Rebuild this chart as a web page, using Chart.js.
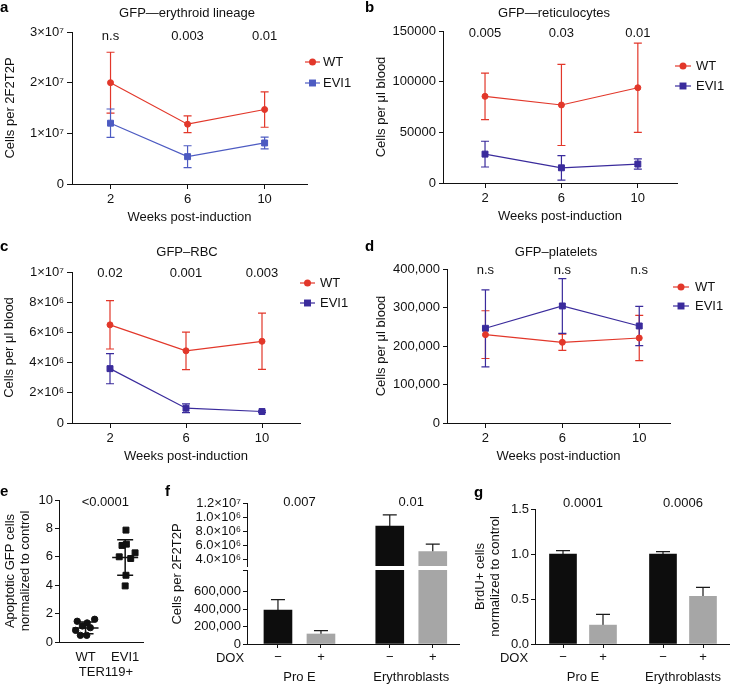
<!DOCTYPE html>
<html>
<head>
<meta charset="utf-8">
<title>EVI1 erythroid figure</title>
<script src="https://cdn.jsdelivr.net/npm/chart.js@4.4.1/dist/chart.umd.min.js"></script>
<style>
  html, body { margin: 0; padding: 0; background: #fff; }
  #fig { position: relative; width: 730px; height: 684px; overflow: hidden; }
  #fig canvas { position: absolute; left: 0; top: 0; }
</style>
</head>
<body>
<div id="fig">
  <canvas id="panelA" width="730" height="684"></canvas>
  <canvas id="panelB" width="730" height="684"></canvas>
  <canvas id="panelC" width="730" height="684"></canvas>
  <canvas id="panelD" width="730" height="684"></canvas>
  <canvas id="panelE" width="730" height="684"></canvas>
  <canvas id="panelFHi" width="730" height="684"></canvas>
  <canvas id="panelFLo" width="730" height="684"></canvas>
  <canvas id="panelG" width="730" height="684"></canvas>
</div>
<script>
// weeks post-induction (a–d)
const weeks = [2, 6, 10];

// a: GFP—erythroid lineage, cells per 2F2T2P
const erythWT = [2.0e7, 1.18e7, 1.47e7];
const erythWTErr = [0.6e7, 0.165e7, 0.35e7];
const erythEVI1 = [1.2e7, 0.54e7, 0.81e7];
const erythEVI1Err = [0.28e7, 0.215e7, 0.115e7];
const erythP = ['n.s', '0.003', '0.01'];
const erythTicks = [0, 1e7, 2e7, 3e7];
const erythTickLabels = ['0', '1×10⁷', '2×10⁷', '3×10⁷'];

// b: GFP—reticulocytes, cells per µl blood
const reticWT = [85500, 77000, 94000];
const reticWTErr = [23000, 40000, 44000];
const reticEVI1 = [28500, 15000, 18700];
const reticEVI1Err = [12700, 12100, 5100];
const reticP = ['0.005', '0.03', '0.01'];
const reticTicks = [0, 50000, 100000, 150000];
const reticTickLabels = ['0', '50000', '100000', '150000'];

// c: GFP–RBC
const rbcWT = [6.5e6, 4.78e6, 5.41e6];
const rbcWTErr = [1.6e6, 1.24e6, 1.86e6];
const rbcEVI1 = [3.6e6, 0.98e6, 0.76e6];
const rbcEVI1Err = [1.0e6, 0.29e6, 0.05e6];
const rbcP = ['0.02', '0.001', '0.003'];
const rbcTicks = [0, 2e6, 4e6, 6e6, 8e6, 1e7];
const rbcTickLabels = ['0', '2×10⁶', '4×10⁶', '6×10⁶', '8×10⁶', '1×10⁷'];

// d: GFP–platelets
const pltWT = [229500, 209600, 220800];
const pltWTErr = [62000, 21000, 59000];
const pltEVI1 = [246000, 304000, 252000];
const pltEVI1Err = [100000, 71000, 51000];
const pltP = ['n.s', 'n.s', 'n.s'];
const pltTicks = [0, 100000, 200000, 300000, 400000];
const pltTickLabels = ['0', '100,000', '200,000', '300,000', '400,000'];

// e: apoptotic GFP cells (TER119+), jittered dots
const apopGroups = ['WT', 'EVI1'];
const apopWTx = [0.79, 1.04, 1.23, 0.92, 1.12, 0.75, 0.87, 1.03];
const apopWT = [1.46, 1.34, 1.60, 1.13, 1.01, 0.82, 0.47, 0.47];
const apopEVI1x = [2.02, 1.92, 2.03, 2.25, 2.14, 1.85, 2.02, 2.0];
const apopEVI1 = [7.88, 6.8, 6.89, 6.28, 5.88, 6.0, 4.7, 3.95];
const apopMean = [0.99, 5.95];
const apopSD = [0.41, 1.25];
const apopP = '<0.0001';
const apopTicks = [0, 2, 4, 6, 8, 10];

// f: cells per 2F2T2P, split axis
const doxLabels = ['−', '+', '−', '+'];
const cellGroups = ['Pro E', 'Erythroblasts'];
const cellsF = [390000, 115000, 8.73e6, 5.12e6];
const cellsFErr = [119000, 38000, 1.6e6, 1.08e6];
const cellsP = ['0.007', '0.01'];
const cellsHiTicks = [4e6, 6e6, 8e6, 1e7, 1.2e7];
const cellsHiTickLabels = ['4.0×10⁶', '6.0×10⁶', '8.0×10⁶', '1.0×10⁶', '1.2×10⁷'];
const cellsLoTicks = [0, 200000, 400000, 600000, 850000];
const cellsLoTickLabels = ['0', '200,000', '400,000', '600,000', ''];

// g: BrdU+ cells normalized to control
const brdu = [1.0, 0.21, 1.0, 0.53];
const brduErr = [0.037, 0.12, 0.026, 0.10];
const brduP = ['0.0001', '0.0006'];
const brduTicks = [0, 0.5, 1.0, 1.5];
const brduTickLabels = ['0.0', '0.5', '1.0', '1.5'];

// look
const ink = '#111';
const red = '#e2372a';
const blueLight = '#4d5bc2';
const blueDark = '#3a2b9c';
const barFill = ['#0d0d0d', '#a6a6a6', '#0d0d0d', '#a6a6a6'];
const FONT = '"Liberation Sans", Arial, Helvetica, sans-serif';
const fSlots = [0, 1, 2.6, 3.6];   // bar slots on x axis (layout only)
const gSlots = [0, 1, 2.5, 3.5];

Chart.defaults.font.family = FONT;
Chart.defaults.font.size = 13;
Chart.defaults.color = ink;

function marker(ctx, style, r, x, y, color) {
  ctx.fillStyle = color;
  if (style === 'rect') {
    const s = r * Math.SQRT1_2 + 0.5;
    ctx.fillRect(x - s, y - s, 2 * s, 2 * s);
  } else {
    ctx.beginPath();
    ctx.arc(x, y, r + 0.5, 0, Math.PI * 2);
    ctx.fill();
  }
}

function drawErrorBars(chart) {
  const ctx = chart.ctx, ys = chart.scales.y, a = chart.chartArea;
  ctx.save();
  ctx.beginPath();
  ctx.rect(a.left - 10, a.top - 1, a.right - a.left + 20, a.bottom - a.top + 2);
  ctx.clip();
  chart.data.datasets.forEach((ds, di) => {
    if (!ds.errors) return;
    const meta = chart.getDatasetMeta(di);
    ctx.strokeStyle = ds.errColor || ds.borderColor;
    ctx.lineWidth = 1.2;
    const cap = ds.capHalf || 4;
    meta.data.forEach((el, i) => {
      const v = ds.data[i].y, e = ds.errors[i];
      const x = el.x;
      const hi = ys.getPixelForValue(v + e);
      const lo = ds.errUp ? ys.getPixelForValue(v) : ys.getPixelForValue(v - e);
      ctx.beginPath();
      ctx.moveTo(x, lo); ctx.lineTo(x, hi);
      ctx.moveTo(x - cap, hi); ctx.lineTo(x + cap, hi);
      if (!ds.errUp) { ctx.moveTo(x - cap, lo); ctx.lineTo(x + cap, lo); }
      ctx.stroke();
    });
  });
  ctx.restore();
}

function drawMeanSd(chart, m) {
  const ctx = chart.ctx, xs = chart.scales.x, ys = chart.scales.y;
  ctx.save();
  ctx.strokeStyle = ink;
  ctx.lineWidth = 1.5;
  m.at.forEach((xv, i) => {
    const x = xs.getPixelForValue(xv);
    const ym = ys.getPixelForValue(m.mean[i]);
    const yh = ys.getPixelForValue(m.mean[i] + m.sd[i]);
    const yl = ys.getPixelForValue(m.mean[i] - m.sd[i]);
    ctx.beginPath();
    ctx.moveTo(x - 13, ym); ctx.lineTo(x + 13, ym);
    ctx.moveTo(x, yh); ctx.lineTo(x, yl);
    ctx.moveTo(x - 8, yh); ctx.lineTo(x + 8, yh);
    ctx.moveTo(x - 8, yl); ctx.lineTo(x + 8, yl);
    ctx.stroke();
  });
  ctx.restore();
}

function drawTexts(chart, cfg) {
  const ctx = chart.ctx, xs = chart.scales.x;
  ctx.save();
  ctx.textBaseline = 'middle';
  ctx.fillStyle = ink;
  ctx.font = '13px ' + FONT;
  ctx.textAlign = 'center';
  if (cfg.title) ctx.fillText(cfg.title.text, cfg.title.x, cfg.title.y);
  if (cfg.pvals) cfg.pvals.labels.forEach((t, i) => ctx.fillText(t, xs.getPixelForValue(cfg.pvals.at[i]), cfg.pvals.y));
  if (cfg.groups) cfg.groups.labels.forEach((t, i) => ctx.fillText(t, xs.getPixelForValue(cfg.groups.at[i]), cfg.groups.y));
  (cfg.notes || []).forEach(n => {
    ctx.save();
    ctx.translate(n.x, n.y);
    if (n.rotate) ctx.rotate(-Math.PI / 2);
    ctx.fillText(n.text, 0, 0);
    ctx.restore();
  });
  if (cfg.legend) {
    const L = cfg.legend;
    chart.data.datasets.forEach((ds, i) => {
      const y = L.ys[i];
      ctx.strokeStyle = ds.borderColor;
      ctx.lineWidth = 1.2;
      ctx.beginPath(); ctx.moveTo(L.x0, y); ctx.lineTo(L.x1, y); ctx.stroke();
      marker(ctx, ds.pointStyle, ds.pointRadius, (L.x0 + L.x1) / 2, y, ds.borderColor);
      ctx.fillStyle = ink;
      ctx.textAlign = 'left';
      ctx.fillText(ds.label, L.tx, y);
    });
  }
  if (cfg.panel) {
    ctx.font = 'bold 15px ' + FONT;
    ctx.textAlign = 'left';
    ctx.fillStyle = '#000';
    ctx.fillText(cfg.panel.text, cfg.panel.x, cfg.panel.y);
  }
  ctx.restore();
}

function extras(cfg) {
  return {
    id: 'extras',
    beforeDatasetsDraw(chart) { drawErrorBars(chart); },
    afterDatasetsDraw(chart) { if (cfg.meanSd) drawMeanSd(chart, cfg.meanSd); },
    afterDraw(chart) { drawTexts(chart, cfg); }
  };
}

function base(b, scales) {
  return {
    responsive: false,
    animation: false,
    devicePixelRatio: 1,
    events: [],
    layout: { padding: { left: b.left, top: b.top, right: 730 - b.right, bottom: 684 - b.bottom - b.xh } },
    scales,
    plugins: { legend: { display: false }, tooltip: { enabled: false } }
  };
}

function yAxis(o) {
  return {
    type: 'linear', min: o.min, max: o.max, bounds: 'data',
    afterFit: s => { s.width = o.width; },
    afterBuildTicks: s => { s.ticks = o.ticks.map(v => ({ value: v })); },
    ticks: { autoSkip: false, padding: o.pad, callback: (v, i) => o.labels[i] },
    grid: { drawOnChartArea: false, tickLength: o.tick, color: ink, lineWidth: 1 },
    border: { display: true, color: ink, width: 1 },
    title: o.title
      ? { display: true, text: o.title, color: ink, padding: { top: o.titlePad, bottom: 0 }, font: { size: 13, lineHeight: 1.15 } }
      : { display: false }
  };
}

function xAxis(o) {
  return {
    type: 'linear', min: o.min, max: o.max, bounds: 'data', offset: false,
    display: o.hidden ? false : true,
    afterFit: s => { s.height = o.height; },
    afterBuildTicks: s => { s.ticks = o.ticks.map(v => ({ value: v })); },
    ticks: { autoSkip: false, maxRotation: 0, padding: o.pad, callback: (v, i) => (o.labels ? o.labels[i] : String(v)) },
    grid: { drawOnChartArea: false, offset: false, drawTicks: o.tick > 0, tickLength: o.tick, color: ink, lineWidth: 1 },
    border: { display: true, color: ink, width: 1 },
    title: o.title
      ? { display: true, text: o.title, color: ink, padding: { top: 0, bottom: 4 } }
      : { display: false }
  };
}

function series(label, ys, errs, color, style, r) {
  return {
    label,
    data: weeks.map((w, i) => ({ x: w, y: ys[i] })),
    errors: errs,
    borderColor: color,
    backgroundColor: color,
    borderWidth: 1.2,
    pointStyle: style,
    pointRadius: r,
    pointBorderWidth: 1
  };
}

function linePanel(p) {
  new Chart(document.getElementById(p.id), {
    type: 'line',
    data: { datasets: [
      series('WT', p.wt, p.wtErr, red, 'circle', 3),
      series('EVI1', p.evi, p.eviErr, p.blue, 'rect', 4.2)
    ] },
    options: base({ left: p.left, top: p.top, right: p.right, bottom: p.bottom, xh: 45 }, {
      x: xAxis({ min: p.xmin, max: p.xmax, ticks: weeks, height: 45, tick: 5, pad: 3, title: 'Weeks post-induction' }),
      y: yAxis({ min: 0, max: p.ticks[p.ticks.length - 1], ticks: p.ticks, labels: p.tickLabels,
                 width: p.yw, tick: p.tick, pad: p.tpad, title: p.yTitle, titlePad: p.titlePad })
    }),
    plugins: [extras({
      title: p.title, panel: p.panel,
      pvals: { labels: p.pv, at: weeks, y: p.pvY },
      legend: p.legend
    })]
  });
}

linePanel({
  id: 'panelA', wt: erythWT, wtErr: erythWTErr, evi: erythEVI1, eviErr: erythEVI1Err, blue: blueLight,
  ticks: erythTicks, tickLabels: erythTickLabels, pv: erythP, pvY: 36,
  left: 0, yw: 72, top: 32, right: 307, bottom: 184, xmin: 0, xmax: 12.2,
  tick: 5, tpad: 3, yTitle: 'Cells per 2F2T2P', titlePad: 2.5,
  title: { text: 'GFP—erythroid lineage', x: 187, y: 13 }, panel: { text: 'a', x: 0, y: 8 },
  legend: { x0: 305, x1: 320, tx: 323, ys: [62, 83] }
});

linePanel({
  id: 'panelB', wt: reticWT, wtErr: reticWTErr, evi: reticEVI1, eviErr: reticEVI1Err, blue: blueDark,
  ticks: reticTicks, tickLabels: reticTickLabels, pv: reticP, pvY: 33,
  left: 370, yw: 73, top: 31, right: 677, bottom: 183, xmin: -0.2, xmax: 12.05,
  tick: 4, tpad: 3, yTitle: 'Cells per μl blood', titlePad: 3.5,
  title: { text: 'GFP—reticulocytes', x: 554, y: 13 }, panel: { text: 'b', x: 365, y: 8 },
  legend: { x0: 675, x1: 691, tx: 696, ys: [66, 86] }
});

linePanel({
  id: 'panelC', wt: rbcWT, wtErr: rbcWTErr, evi: rbcEVI1, eviErr: rbcEVI1Err, blue: blueDark,
  ticks: rbcTicks, tickLabels: rbcTickLabels, pv: rbcP, pvY: 273,
  left: 0, yw: 72, top: 272, right: 300, bottom: 423, xmin: 0, xmax: 12,
  tick: 5, tpad: 3, yTitle: 'Cells per μl blood', titlePad: 1.5,
  title: { text: 'GFP–RBC', x: 187, y: 252 }, panel: { text: 'c', x: 0, y: 247 },
  legend: { x0: 300, x1: 315, tx: 320, ys: [283, 303] }
});

linePanel({
  id: 'panelD', wt: pltWT, wtErr: pltWTErr, evi: pltEVI1, eviErr: pltEVI1Err, blue: blueDark,
  ticks: pltTicks, tickLabels: pltTickLabels, pv: pltP, pvY: 270,
  left: 370, yw: 77, top: 269, right: 670, bottom: 423, xmin: 0, xmax: 11.6,
  tick: 4, tpad: 3, yTitle: 'Cells per μl blood', titlePad: 3.5,
  title: { text: 'GFP–platelets', x: 556, y: 252 }, panel: { text: 'd', x: 365, y: 247 },
  legend: { x0: 673, x1: 689, tx: 695, ys: [287, 306] }
});

// e: scatter with mean ± SD
new Chart(document.getElementById('panelE'), {
  type: 'scatter',
  data: { datasets: [
    { label: 'WT', data: apopWTx.map((x, i) => ({ x, y: apopWT[i] })), pointStyle: 'circle', pointRadius: 3.2,
      backgroundColor: ink, borderColor: ink },
    { label: 'EVI1', data: apopEVI1x.map((x, i) => ({ x, y: apopEVI1[i] })), pointStyle: 'rect', pointRadius: 4.2,
      backgroundColor: ink, borderColor: ink }
  ] },
  options: base({ left: 0, top: 500, right: 143, bottom: 642, xh: 40 }, {
    x: xAxis({ min: 0.33, max: 2.45, ticks: [1, 2], labels: apopGroups, height: 40, tick: 0, pad: 8 }),
    y: yAxis({ min: 0, max: 10, ticks: apopTicks, labels: apopTicks.map(String), width: 59, tick: 4, pad: 2,
               title: ['Apoptotic GFP cells', 'normalized to control'], titlePad: 2.5 })
  }),
  plugins: [extras({
    panel: { text: 'e', x: 0, y: 492 },
    pvals: { labels: [apopP], at: [1.5], y: 502 },
    meanSd: { at: [1, 2], mean: apopMean, sd: apopSD },
    notes: [{ text: 'TER119+', x: 106, y: 672 }]
  })]
});

// f: broken axis drawn as two stacked charts
function barSet(vals, errs, slots, width) {
  return {
    data: slots.map((x, i) => ({ x, y: vals[i] })),
    errors: errs, errUp: true, errColor: '#1a1a1a', capHalf: 7,
    backgroundColor: barFill, borderWidth: 0, barThickness: width, clip: 0
  };
}

new Chart(document.getElementById('panelFHi'), {
  type: 'bar',
  data: { datasets: [barSet(cellsF, cellsFErr, fSlots, 28)] },
  options: base({ left: 170, top: 503, right: 459, bottom: 566, xh: 0 }, {
    x: xAxis({ min: -0.72, max: 4.21, ticks: fSlots, labels: doxLabels, height: 0, tick: 0, pad: 0, hidden: true }),
    y: yAxis({ min: 3.1e6, max: 1.2e7, ticks: cellsHiTicks, labels: cellsHiTickLabels, width: 77, tick: 4, pad: 2 })
  }),
  plugins: [extras({
    panel: { text: 'f', x: 165, y: 492 },
    pvals: { labels: cellsP, at: [(fSlots[0] + fSlots[1]) / 2, (fSlots[2] + fSlots[3]) / 2], y: 502 }
  })]
});

new Chart(document.getElementById('panelFLo'), {
  type: 'bar',
  data: { datasets: [barSet(cellsF, cellsFErr, fSlots, 28)] },
  options: base({ left: 170, top: 570, right: 459, bottom: 644, xh: 20 }, {
    x: xAxis({ min: -0.72, max: 4.21, ticks: fSlots, labels: doxLabels, height: 20, tick: 4, pad: 2 }),
    y: yAxis({ min: 0, max: 850000, ticks: cellsLoTicks, labels: cellsLoTickLabels, width: 77, tick: 4, pad: 2 })
  }),
  plugins: [extras({
    groups: { labels: cellGroups, at: [(fSlots[0] + fSlots[1]) / 2, (fSlots[2] + fSlots[3]) / 2], y: 677 },
    notes: [
      { text: 'DOX', x: 230, y: 658 },
      { text: 'Cells per 2F2T2P', x: 177, y: 574, rotate: true }
    ]
  })]
});

// g
new Chart(document.getElementById('panelG'), {
  type: 'bar',
  data: { datasets: [barSet(brdu, brduErr, gSlots, 27)] },
  options: base({ left: 470, top: 509, right: 730, bottom: 644, xh: 20 }, {
    x: xAxis({ min: -0.7, max: 4.175, ticks: gSlots, labels: doxLabels, height: 20, tick: 4, pad: 2 }),
    y: yAxis({ min: 0, max: 1.5, ticks: brduTicks, labels: brduTickLabels, width: 65, tick: 4, pad: 2,
               title: ['BrdU+ cells', 'normalized to control'], titlePad: 2.5 })
  }),
  plugins: [extras({
    panel: { text: 'g', x: 474, y: 493 },
    pvals: { labels: brduP, at: [(gSlots[0] + gSlots[1]) / 2, (gSlots[2] + gSlots[3]) / 2], y: 503 },
    groups: { labels: cellGroups, at: [(gSlots[0] + gSlots[1]) / 2, (gSlots[2] + gSlots[3]) / 2], y: 677 },
    notes: [{ text: 'DOX', x: 514, y: 658 }]
  })]
});
</script>
</body>
</html>
